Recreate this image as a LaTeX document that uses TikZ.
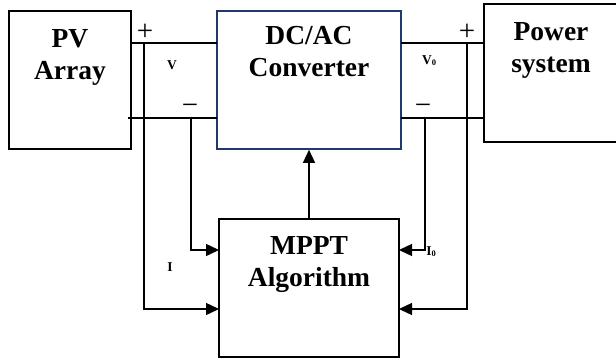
\documentclass[tikz,border=0pt]{standalone}
\usepackage{fontspec}
\setmainfont{Liberation Serif}
\usetikzlibrary{arrows.meta}
\definecolor{convblue}{RGB}{31,56,110}
\tikzset{
  box/.style={draw=black, line width=1.6pt, fill=white, inner sep=0pt},
  bigtxt/.style={font=\fontsize{27.5}{32}\selectfont\bfseries, align=center, anchor=north, inner sep=0pt},
  smalltxt/.style={font=\fontsize{13.5}{13.5}\selectfont\bfseries, inner sep=0pt},
  signtxt/.style={font=\fontsize{29}{29}\selectfont, inner sep=0pt},
  wire/.style={line width=1.4pt},
  arr/.style={wire, -{Triangle[length=13pt,width=12pt]}}
}
\begin{document}
\begin{tikzpicture}[x=1pt,y=1pt]
\useasboundingbox (0,0) rectangle (616,-362);
% boxes
\node[box, minimum width=122pt, minimum height=138pt] (pv) at (70,-80) {};
\node[box, draw=convblue, minimum width=184pt, minimum height=138pt] (dc) at (309,-80) {};
\node[box, minimum width=140pt, minimum height=138pt] (ps) at (554,-73) {};
\node[box, minimum width=180pt, minimum height=138pt] (mppt) at (309,-288) {};
% texts
\node[bigtxt] (pvt) at (70,-29) {PV\\Array};
\node[bigtxt] (dct) at (309,-26) {DC/AC\\Converter};
\node[bigtxt] (pst) at (551,-22) {Power\\system};
\node[bigtxt] (mpt) at (309,-236) {MPPT\\Algorithm};
% coordinates
\coordinate (pvT) at (131,-43);
\coordinate (pvB) at (128,-118);
\coordinate (dcLT) at (217,-43);
\coordinate (dcLB) at (217,-118);
\coordinate (dcRT) at (401,-43);
\coordinate (dcRB) at (401,-118);
\coordinate (psT) at (484,-43);
\coordinate (psB) at (484,-118);
\coordinate (jLo) at (144,-43);
\coordinate (jLi) at (191,-118);
\coordinate (jRi) at (425,-118);
\coordinate (jRo) at (467,-43);
\coordinate (cLo) at (144,-309);
\coordinate (cLi) at (191,-250);
\coordinate (cRi) at (425,-250);
\coordinate (cRo) at (467,-309);
\coordinate (mLu) at (219,-250);
\coordinate (mLd) at (219,-309);
\coordinate (mRu) at (399,-250);
\coordinate (mRd) at (399,-309);
% wires
\draw[wire] (pvT) -- (dcLT);
\draw[wire] (pvB) -- (dcLB);
\draw[wire] (dcRT) -- (psT);
\draw[wire] (dcRB) -- (psB);
\draw[arr] (jLo) -- (cLo) -- (mLd);
\draw[arr] (jLi) -- (cLi) -- (mLu);
\draw[arr] (jRi) -- (cRi) -- (mRu);
\draw[arr] (jRo) -- (cRo) -- (mRd);
\draw[arr] (mppt.north) -- (dc.south);
% signs
\node[signtxt] (p1) at (145,-32) {+};
\node[signtxt] (p2) at (467,-32) {+};
\node[signtxt] (m1) at (190,-109) {−};
\node[signtxt] (m2) at (423,-109) {−};
% small labels
\node[smalltxt] (vl) at (172,-65) {V};
\node[smalltxt] (v0l) at (429,-61) {V{\fontsize{8.5}{8.5}\selectfont\raisebox{-1pt}{0}}};
\node[smalltxt] (il) at (170,-267) {I};
\node[smalltxt] (i0l) at (431,-252) {I{\fontsize{8.5}{8.5}\selectfont\raisebox{-1pt}{0}}};
\end{tikzpicture}
\end{document}
